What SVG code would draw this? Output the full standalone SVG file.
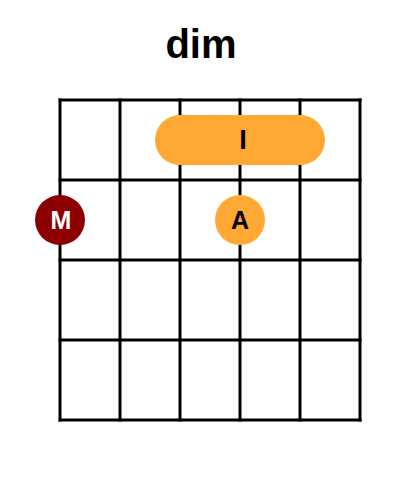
<svg xmlns="http://www.w3.org/2000/svg" width="400" height="500" viewBox="0 0 400 500">
<style>
.grid line{stroke:#000;stroke-width:3;stroke-linecap:square}
.t{font-family:"Liberation Sans",Arial,sans-serif;font-weight:bold;text-anchor:middle}
.lbl{font-size:25px}
.orange{fill:#FFA833}
.red{fill:#8B0000}
</style>
<rect width="400" height="500" fill="#fff"/>
<text class="t" x="201" y="58" font-size="40">dim</text>
<g id="connectors" class="grid">
<line x1="60" y1="100" x2="60" y2="420"/>
<line x1="120" y1="100" x2="120" y2="420"/>
<line x1="180" y1="100" x2="180" y2="420"/>
<line x1="240" y1="100" x2="240" y2="420"/>
<line x1="300" y1="100" x2="300" y2="420"/>
<line x1="360" y1="100" x2="360" y2="420"/>
<line x1="60" y1="100" x2="360" y2="100"/>
<line x1="60" y1="180" x2="360" y2="180"/>
<line x1="60" y1="260" x2="360" y2="260"/>
<line x1="60" y1="340" x2="360" y2="340"/>
<line x1="60" y1="420" x2="360" y2="420"/>
</g>
<g id="barre-I">
<rect class="orange" x="155" y="115" width="170" height="50" rx="25" ry="25"/>
<text class="t" x="243" y="149" font-size="27" fill="#000">I</text>
</g>
<g id="note-M">
<circle class="red" cx="60" cy="220" r="25"/>
<text class="t lbl" x="61" y="229" fill="#fff">M</text>
</g>
<g id="note-A">
<circle class="orange" cx="240" cy="220" r="25"/>
<text class="t lbl" x="240" y="229" fill="#000">A</text>
</g>
</svg>
